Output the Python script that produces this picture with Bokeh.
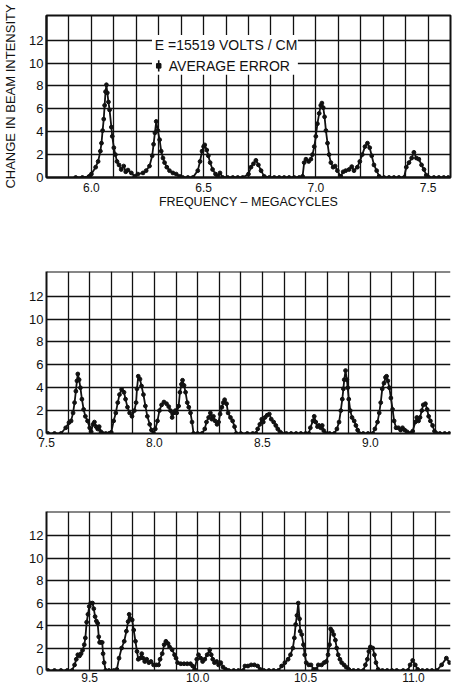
from bokeh.plotting import figure
from bokeh.models import FixedTicker, Range1d, Label, Span
from bokeh.layouts import column
from bokeh.embed import file_html
from bokeh.resources import INLINE

FONT = "Liberation Sans"
INK = "#111111"

# ---------------- data (frequency in Mc, change in beam intensity) ----------------
p1_freq = [5.93, 5.96, 5.99, 6.00, 6.019, 6.03, 6.04, 6.045, 6.05, 6.055, 6.059, 6.063, 6.067,
           6.071, 6.076, 6.081, 6.089, 6.093, 6.10, 6.107, 6.114, 6.123, 6.133, 6.144, 6.153,
           6.163, 6.178, 6.193, 6.207, 6.23, 6.244, 6.259, 6.271, 6.277, 6.283, 6.289, 6.296,
           6.304, 6.311, 6.319, 6.326, 6.336, 6.348, 6.363, 6.378, 6.393, 6.407, 6.43, 6.452,
           6.474, 6.484, 6.493, 6.50, 6.505, 6.514, 6.521, 6.529, 6.54, 6.553, 6.563, 6.573,
           6.585, 6.607, 6.63, 6.652, 6.674, 6.70, 6.711, 6.722, 6.733, 6.744, 6.756, 6.77,
           6.793, 6.815, 6.837, 6.859, 6.881, 6.904, 6.926, 6.941, 6.948, 6.956, 6.968, 6.978,
           6.985, 6.993, 7.00, 7.007, 7.015, 7.022, 7.027, 7.033, 7.039, 7.045, 7.052, 7.059,
           7.067, 7.077, 7.086, 7.096, 7.111, 7.122, 7.133, 7.148, 7.16, 7.17, 7.185, 7.196,
           7.207, 7.219, 7.23, 7.24, 7.249, 7.259, 7.271, 7.282, 7.304, 7.326, 7.348, 7.37,
           7.393, 7.403, 7.415, 7.427, 7.437, 7.448, 7.459, 7.471, 7.482, 7.492, 7.504, 7.526,
           7.548, 7.57, 7.59]
p1_val = [0.0, 0.0, 0.1, 0.3, 0.9, 1.4, 2.3, 3.0, 4.1, 5.1, 6.3, 7.5, 8.1,
          7.4, 6.6, 5.9, 4.4, 3.6, 2.6, 2.0, 1.4, 1.1, 0.7, 1.0, 0.5,
          0.65, 0.4, 0.1, 0.3, 0.4, 0.6, 1.0, 1.9, 2.9, 3.9, 4.9, 4.1,
          3.3, 2.3, 1.7, 1.3, 0.9, 0.6, 0.4, 0.3, 0.1, 0.0, 0.0, 0.0,
          0.6, 1.4, 2.3, 2.7, 2.85, 2.4, 1.9, 1.3, 0.7, 0.3, 0.1, 0.4,
          0.0, 0.0, 0.0, 0.0, 0.0, 0.3, 0.9, 1.2, 1.5, 1.1, 0.6, 0.1,
          0.0, 0.0, 0.0, 0.0, 0.0, 0.0, 0.0, 0.1, 1.3, 1.6, 1.4, 1.6,
          2.0, 2.7, 3.6, 4.7, 5.6, 6.3, 6.5, 6.1, 5.3, 4.1, 3.0, 2.0,
          1.3, 0.9, 1.0, 0.6, 0.1, 0.5, 0.6, 0.7, 0.95, 0.6, 0.9, 1.4,
          2.0, 2.7, 3.0, 2.6, 1.9, 1.1, 0.6, 0.1, 0.0, 0.0, 0.0, 0.0,
          0.0, 0.9, 1.3, 1.7, 2.2, 1.7, 1.6, 1.1, 0.7, 0.2, 0.0, 0.0,
          0.0, 0.0, 0.0]

p2_freq = [7.507, 7.537, 7.567, 7.589, 7.604, 7.614, 7.623, 7.63, 7.636, 7.641, 7.645, 7.651,
           7.657, 7.664, 7.672, 7.68, 7.69, 7.70, 7.707, 7.715, 7.722, 7.73, 7.737, 7.744,
           7.752, 7.76, 7.774, 7.789, 7.80, 7.811, 7.821, 7.83, 7.838, 7.848, 7.859, 7.866,
           7.875, 7.885, 7.896, 7.907, 7.915, 7.919, 7.925, 7.933, 7.94, 7.949, 7.958, 7.967,
           7.978, 7.986, 7.996, 8.004, 8.014, 8.023, 8.033, 8.044, 8.056, 8.066, 8.074, 8.082,
           8.089, 8.097, 8.103, 8.112, 8.118, 8.125, 8.13, 8.137, 8.144, 8.152, 8.159, 8.167,
           8.174, 8.181, 8.20, 8.22, 8.233, 8.241, 8.251, 8.259, 8.266, 8.273, 8.281, 8.29,
           8.297, 8.304, 8.312, 8.319, 8.325, 8.334, 8.341, 8.352, 8.362, 8.371, 8.379, 8.40,
           8.43, 8.455, 8.47, 8.478, 8.488, 8.497, 8.504, 8.512, 8.522, 8.532, 8.541, 8.552,
           8.562, 8.571, 8.581, 8.589, 8.611, 8.633, 8.656, 8.678, 8.70, 8.715, 8.722, 8.734,
           8.74, 8.747, 8.755, 8.762, 8.77, 8.777, 8.784, 8.793, 8.811, 8.833, 8.845, 8.855,
           8.863, 8.87, 8.875, 8.879, 8.885, 8.891, 8.895, 8.90, 8.907, 8.915, 8.925, 8.933,
           8.941, 8.949, 8.967, 8.989, 9.011, 9.021, 9.033, 9.041, 9.048, 9.055, 9.063, 9.07,
           9.075, 9.081, 9.088, 9.095, 9.103, 9.11, 9.119, 9.13, 9.14, 9.149, 9.159, 9.17,
           9.181, 9.19, 9.196, 9.208, 9.215, 9.223, 9.23, 9.238, 9.245, 9.255, 9.263, 9.27,
           9.278, 9.288, 9.297, 9.307, 9.322, 9.344, 9.366]
p2_val = [0.0, 0.0, 0.0, 0.5, 0.95, 1.1, 1.8, 2.7, 3.7, 4.6, 5.2, 4.7,
          4.0, 3.0, 2.1, 1.5, 1.1, 0.5, 0.15, 0.8, 1.0, 0.6, 0.4, 0.6,
          0.15, 0.0, 0.0, 0.0, 0.1, 1.1, 1.8, 2.7, 3.4, 3.85, 3.6, 3.0,
          2.3, 1.8, 1.5, 2.0, 2.7, 3.9, 5.0, 4.75, 4.15, 3.4, 2.4, 1.5,
          0.8, 0.3, 0.0, 0.4, 1.1, 2.0, 2.5, 2.75, 2.6, 2.35, 2.0, 1.4,
          1.8, 2.0, 1.8, 2.4, 3.6, 4.3, 4.65, 4.2, 3.6, 2.7, 2.3, 1.8,
          1.0, 0.0, 0.0, 0.0, 0.4, 1.0, 1.4, 1.8, 1.25, 1.5, 1.1, 0.8,
          1.0, 1.7, 2.3, 2.7, 2.95, 2.6, 1.8, 1.4, 1.1, 0.6, 0.0, 0.0,
          0.0, 0.0, 0.0, 0.4, 0.8, 1.25, 1.0, 1.4, 1.6, 1.7, 1.25, 1.0,
          0.7, 0.4, 0.15, 0.0, 0.0, 0.0, 0.0, 0.0, 0.0, 0.0, 0.5, 1.1,
          1.5, 1.0, 0.6, 0.7, 0.5, 0.7, 0.25, 0.0, 0.0, 0.0, 0.4, 1.0,
          2.0, 3.0, 3.9, 4.7, 5.5, 4.7, 4.0, 3.0, 2.0, 1.4, 1.1, 0.7,
          0.3, 0.0, 0.0, 0.0, 0.0, 0.4, 1.0, 1.8, 2.7, 3.9, 4.4, 4.9,
          5.0, 4.6, 4.0, 3.1, 2.1, 1.1, 0.5, 0.5, 0.3, 0.5, 0.3, 0.15,
          0.0, 0.0, 0.2, 1.0, 1.4, 1.1, 1.4, 2.0, 2.5, 2.6, 2.1, 1.5,
          1.1, 0.7, 0.2, 0.0, 0.0, 0.0, 0.0]

p3_freq = [9.307, 9.337, 9.367, 9.396, 9.418, 9.43, 9.438, 9.445, 9.453, 9.46, 9.467, 9.475,
           9.48, 9.486, 9.492, 9.498, 9.505, 9.513, 9.519, 9.525, 9.531, 9.537, 9.542, 9.546,
           9.552, 9.558, 9.562, 9.567, 9.574, 9.589, 9.611, 9.626, 9.636, 9.648, 9.66, 9.67,
           9.678, 9.683, 9.69, 9.697, 9.704, 9.712, 9.719, 9.725, 9.733, 9.741, 9.747, 9.755,
           9.764, 9.774, 9.784, 9.796, 9.808, 9.819, 9.826, 9.836, 9.845, 9.853, 9.863, 9.87,
           9.882, 9.893, 9.90, 9.907, 9.922, 9.937, 9.952, 9.967, 9.977, 9.986, 9.996, 10.004,
           10.014, 10.023, 10.033, 10.044, 10.056, 10.063, 10.07, 10.078, 10.088, 10.097, 10.107,
           10.118, 10.13, 10.144, 10.167, 10.189, 10.211, 10.219, 10.233, 10.248, 10.263, 10.278,
           10.29, 10.307, 10.33, 10.352, 10.374, 10.389, 10.404, 10.419, 10.43, 10.441, 10.448,
           10.454, 10.46, 10.466, 10.472, 10.475, 10.482, 10.49, 10.496, 10.503, 10.515, 10.525,
           10.537, 10.549, 10.559, 10.574, 10.586, 10.596, 10.604, 10.611, 10.616, 10.623, 10.63,
           10.638, 10.644, 10.651, 10.659, 10.667, 10.678, 10.688, 10.70, 10.722, 10.744, 10.767,
           10.777, 10.786, 10.793, 10.80, 10.811, 10.819, 10.826, 10.836, 10.856, 10.878, 10.90,
           10.922, 10.952, 10.974, 10.984, 10.996, 11.008, 11.019, 11.041, 11.063, 11.085,
           11.107, 11.13, 11.152, 11.167]
p3_val = [0.0, 0.0, 0.0, 0.0, 0.0, 0.5, 1.0, 1.4, 1.3, 1.5, 1.8, 2.3,
          2.9, 4.3, 5.0, 5.7, 6.0, 6.0, 5.5, 4.8, 4.4, 4.2, 3.0, 2.5,
          2.5, 2.5, 1.5, 0.7, 0.0, 0.0, 0.0, 0.1, 1.1, 2.0, 2.6, 3.5,
          4.35, 5.0, 4.6, 4.5, 3.6, 2.6, 1.7, 1.0, 1.1, 1.5, 1.1, 0.8,
          1.0, 0.7, 0.8, 0.5, 0.5, 0.5, 1.0, 1.5, 2.3, 2.6, 2.4, 2.1,
          1.85, 1.4, 1.1, 0.7, 0.6, 0.6, 0.6, 0.6, 0.4, 0.1, 1.0, 1.4,
          1.1, 0.8, 1.0, 1.4, 1.85, 1.4, 1.0, 0.7, 0.8, 0.5, 0.7,
          0.3, 0.1, 0.0, 0.0, 0.0, 0.0, 0.4, 0.4, 0.5, 0.5, 0.4,
          0.1, 0.0, 0.0, 0.0, 0.0, 0.4, 0.7, 1.0, 1.4, 2.0, 2.9,
          4.1, 4.9, 6.0, 4.6, 3.5, 3.2, 2.3, 1.4, 0.7, 0.5, 0.5,
          0.1, 0.1, 0.5, 0.5, 0.7, 0.8, 1.4, 2.3, 3.7, 3.5, 3.2,
          2.7, 2.0, 1.4, 1.0, 0.7, 0.5, 0.3, 0.1, 0.0, 0.0, 0.0,
          0.5, 1.0, 1.7, 2.1, 2.0, 1.4, 0.7, 0.1, 0.0, 0.0, 0.0,
          0.0, 0.0, 0.0, 0.5, 0.9, 0.5, 0.1, 0.0, 0.0, 0.0,
          0.0, 0.5, 1.1, 0.7]

p1_ticks = [6.0, 6.5, 7.0, 7.5]
p1_tick_labels = ["6.0", "6.5", "7.0", "7.5"]
p2_ticks = [7.5, 8.0, 8.5, 9.0]
p2_tick_labels = ["7.5", "8.0", "8.5", "9.0"]
p3_ticks = [9.5, 10.0, 10.5, 11.0]
p3_tick_labels = ["9.5", "10.0", "10.5", "11.0"]
y_ticks = [0, 2, 4, 6, 8, 10, 12]
y_tick_labels = ["0", "2", "4", "6", "8", "10", "12"]

y_title = "CHANGE IN BEAM INTENSITY"
x_title = "FREQUENCY \u2013 MEGACYCLES"
note_field = "E =15519 VOLTS / CM"
note_error = "AVERAGE ERROR"

# ---------------- layout constants ----------------
W = 466
LEFT = 45
PX_PER_MC = 225.0
Y_MAX = 14.15


def panel(freq, vals, x_start, ticks, tick_labels, height, top, bottom, right,
          closed_right=False, show_titles=False, x_standoff=4):
    frame_w = W - LEFT - right
    x_end = x_start + frame_w / PX_PER_MC
    p = figure(width=W, height=height, title=None,
               x_range=Range1d(x_start, x_end), y_range=Range1d(0, Y_MAX),
               output_backend="svg", toolbar_location=None,
               min_border_left=LEFT, min_border_right=right,
               min_border_top=top, min_border_bottom=bottom)
    p.background_fill_color = "white"
    p.border_fill_color = "white"
    p.outline_line_color = INK if closed_right else None
    p.outline_line_width = 2

    gx = []
    k = 1
    while x_start + 0.1 * k < x_end - 0.02:
        gx.append(round(x_start + 0.1 * k, 1))
        k += 1
    p.xgrid.ticker = FixedTicker(ticks=gx)
    p.ygrid.ticker = FixedTicker(ticks=[2, 4, 6, 8, 10, 12])
    for g in (p.xgrid, p.ygrid):
        g.grid_line_color = INK
        g.grid_line_width = 1.3
        g.grid_line_alpha = 1.0

    if not closed_right:
        p.add_layout(Span(location=Y_MAX, dimension="width", line_color=INK, line_width=2))

    p.xaxis.ticker = FixedTicker(ticks=ticks)
    p.xaxis.major_label_overrides = {t: s for t, s in zip(ticks, tick_labels)}
    p.yaxis.ticker = FixedTicker(ticks=y_ticks)
    p.yaxis.major_label_overrides = {t: s for t, s in zip(y_ticks, y_tick_labels)}
    for ax in (p.xaxis, p.yaxis):
        ax.axis_line_color = INK
        ax.axis_line_width = 2
        ax.major_tick_in = 0
        ax.major_tick_out = 0
        ax.minor_tick_in = 0
        ax.minor_tick_out = 0
        ax.major_label_text_font = FONT
        ax.major_label_text_color = INK
    p.xaxis.major_label_text_font_size = "12px"
    p.xaxis.major_label_standoff = x_standoff
    p.yaxis.major_label_text_font_size = "13px"
    p.yaxis.major_label_standoff = 3

    if show_titles:
        p.yaxis.axis_label = y_title
        p.xaxis.axis_label = x_title
        for ax in (p.xaxis, p.yaxis):
            ax.axis_label_text_font = FONT
            ax.axis_label_text_font_style = "normal"
            ax.axis_label_text_color = INK
        p.yaxis.axis_label_text_font_size = "13px"
        p.xaxis.axis_label_text_font_size = "12.5px"
        p.yaxis.axis_label_standoff = 8
        p.xaxis.axis_label_standoff = 0

    p.line(freq, vals, line_color=INK, line_width=1.8)
    p.scatter(freq, vals, size=3.8, color=INK)
    return p


p1 = panel(p1_freq, p1_val, 5.8, p1_ticks, p1_tick_labels,
           height=225, top=15, bottom=48, right=16,
           closed_right=True, show_titles=True, x_standoff=5)

# legend box with the field value and the error-bar key (panel 1)
box_left, box_right, box_bottom, box_top = 6.27, 6.92, 8.97, 12.45
p1.quad(left=[box_left], right=[box_right], bottom=[box_bottom], top=[box_top],
        fill_color="white", line_color=None)
err_x, err_y, err_half = 6.3, 9.75, 0.5
p1.segment(x0=[err_x], y0=[err_y - err_half], x1=[err_x], y1=[err_y + err_half],
           line_color=INK, line_width=1.6)
p1.scatter([err_x], [err_y], size=4.5, marker="square", color=INK)
p1.add_layout(Label(x=6.6, y=11.55, text=note_field, text_align="center",
                    text_baseline="middle", text_font=FONT, text_font_size="14px",
                    text_color=INK))
p1.add_layout(Label(x=6.345, y=9.75, text=note_error, text_align="left",
                    text_baseline="middle", text_font=FONT, text_font_size="14px",
                    text_color=INK))

p2 = panel(p2_freq, p2_val, 7.5, p2_ticks, p2_tick_labels,
           height=225, top=46, bottom=17, right=0, x_standoff=4)
p3 = panel(p3_freq, p3_val, 9.3, p3_ticks, p3_tick_labels,
           height=235, top=61, bottom=15, right=0, x_standoff=2)

layout = column(p1, p2, p3, spacing=0)
open("out.html", "w").write(file_html(layout, INLINE))
